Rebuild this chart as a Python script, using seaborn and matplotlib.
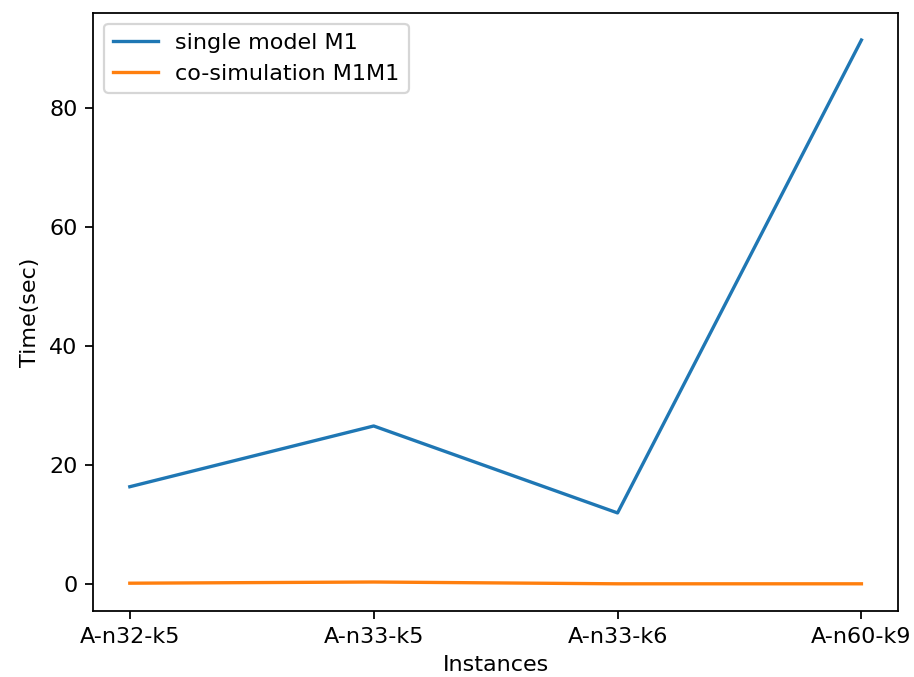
import matplotlib
matplotlib.use("Agg")
import matplotlib.pyplot as plt
import seaborn as sns
import pandas as pd

instances = ["A-n32-k5", "A-n33-k5", "A-n33-k6", "A-n60-k9"]
single_m1 = [16.4, 26.6, 12.0, 91.4]
cosim_m1m1 = [0.2, 0.4, 0.1, 0.1]

df = pd.DataFrame({
    "Instances": instances * 2,
    "Time(sec)": single_m1 + cosim_m1m1,
    "series": ["single model M1"] * 4 + ["co-simulation M1M1"] * 4,
})

fig, ax = plt.subplots(figsize=(5.7125, 4.23125), dpi=160)
sns.lineplot(data=df, x="Instances", y="Time(sec)", hue="series",
             palette=["#1f77b4", "#ff7f0e"], ax=ax, sort=False)
ax.legend(loc="upper left")
ax.set_xlabel("Instances")
ax.set_ylabel("Time(sec)")
fig.subplots_adjust(left=0.102, right=0.9825, top=0.981, bottom=0.0975)
fig.savefig("out.png")
